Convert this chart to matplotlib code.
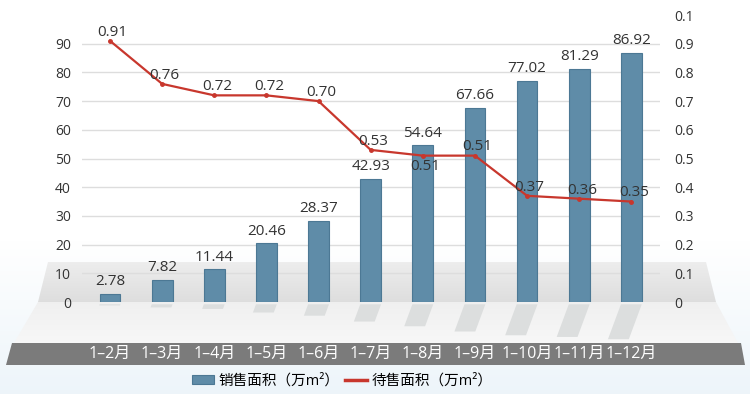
import numpy as np
import matplotlib
matplotlib.use("Agg")
import matplotlib.pyplot as plt
from matplotlib.patches import Polygon
from matplotlib.transforms import blended_transform_factory

plt.rcParams['font.family'] = ['Open Sans', 'Noto Sans CJK SC', 'DejaVu Sans']

# données
mois = ["1–2月", "1–3月", "1–4月", "1–5月", "1–6月", "1–7月",
        "1–8月", "1–9月", "1–10月", "1–11月", "1–12月"]
ventes = [2.78, 7.82, 11.44, 20.46, 28.37, 42.93, 54.64, 67.66, 77.02, 81.29, 86.92]
stock = [0.91, 0.76, 0.72, 0.72, 0.70, 0.53, 0.51, 0.51, 0.37, 0.36, 0.35]
ticks_gauche = [0, 10, 20, 30, 40, 50, 60, 70, 80, 90]
ticks_droite = [0, 0.1, 0.2, 0.3, 0.4, 0.5, 0.6, 0.7, 0.8, 0.9, 1.0]
labels_droite = ["0", "0.1", "0.2", "0.3", "0.4", "0.5", "0.6", "0.7", "0.8", "0.9", "0.1"]

W, H = 750, 394
fig = plt.figure(figsize=(7.5, 3.94), dpi=100)

# fond décoratif (coordonnées pixels, y vers le bas)
bg = fig.add_axes([0, 0, 1, 1], zorder=0)
bg.set_xlim(0, W)
bg.set_ylim(H, 0)
bg.axis("off")
grad = np.linspace(0, 1, 100).reshape(-1, 1)
bg.imshow(np.dstack([1 - 0.07 * grad, 1 - 0.04 * grad, 1 - 0.02 * grad] + [np.ones_like(grad)]),
          extent=[0, W, H, 240], aspect="auto", zorder=0)

def poly_grad(pts, c_top, c_bot, z):
    p = Polygon(pts, closed=True, facecolor="none", edgecolor="none", zorder=z)
    bg.add_patch(p)
    ys = [q[1] for q in pts]
    g = np.linspace(0, 1, 64).reshape(-1, 1)
    c1, c2 = np.array(c_top), np.array(c_bot)
    img = c1 + (c2 - c1) * g[:, :, None]
    img = np.repeat(img, 2, axis=1)
    im = bg.imshow(img, extent=[0, W, max(ys), min(ys)], aspect="auto", zorder=z)
    im.set_clip_path(p)

poly_grad([(48, 262), (706, 262), (716, 302), (38, 302)],
          (0.93, 0.93, 0.93), (0.87, 0.87, 0.87), 1)
poly_grad([(38, 302), (716, 302), (738, 343), (14, 343)],
          (0.94, 0.94, 0.94), (0.97, 0.97, 0.97), 1)
bg.add_patch(Polygon([(12, 343), (741, 343), (745, 365), (6, 365)], closed=True,
                     facecolor="#7b7b7b", edgecolor="none", zorder=2))

# graphique principal
ax = fig.add_axes([82 / W, 92 / H, 578 / W, 287 / H], zorder=2)
ax.patch.set_alpha(0)
x = np.arange(len(mois))
ax.set_xlim(-0.537, 10.55)
ax.set_ylim(0, 100)
for s in ax.spines.values():
    s.set_visible(False)
ax.set_yticks(ticks_gauche)
ax.tick_params(axis="y", length=0, pad=8, labelsize=10, labelcolor="#333333")
ax.set_xticks([])
ax.grid(axis="y", color="#dddddd", linewidth=1)
ax.set_axisbelow(True)

# ombres sous les barres
bw = 0.4
for xi, v in zip(x, ventes):
    l = 0.14 * v
    dx = -0.37 * l * 2.87 / 52.1
    ax.add_patch(Polygon([(xi - bw / 2, -0.8), (xi + bw / 2, -0.8),
                          (xi + bw / 2 + dx, -0.8 - l), (xi - bw / 2 + dx, -0.8 - l)],
                         closed=True, facecolor="#dcdede", edgecolor="none",
                         clip_on=False, zorder=1))

bars = ax.bar(x, ventes, width=bw, color="#5f8ca8", edgecolor="#4c7894",
              linewidth=0.8, zorder=3, label="销售面积（万m²）")
for xi, v in zip(x, ventes):
    ax.text(xi, v + 1.6, f"{v:.2f}", ha="center", va="bottom", fontsize=11,
            color="#333333", zorder=5)

ax2 = ax.twinx()
ax2.set_ylim(0, 1)
for s in ax2.spines.values():
    s.set_visible(False)
ax2.set_yticks(ticks_droite)
ax2.set_yticklabels(labels_droite)
ax2.tick_params(axis="y", length=0, pad=10, labelsize=10, labelcolor="#333333")
ax2.plot(x, stock, color="#c8372d", linewidth=1.6, marker="o", markersize=2.5,
         zorder=4, label="待售面积（万m²）")
for i, (xi, v) in enumerate(zip(x, stock)):
    if i == 6:
        ax2.text(xi + 0.05, v - 0.012, f"{v:.2f}", ha="center", va="top",
                 fontsize=11, color="#333333", zorder=5)
    else:
        ax2.text(xi + 0.05, v + 0.004, f"{v:.2f}", ha="center", va="bottom",
                 fontsize=11, color="#333333", zorder=5)

# étiquettes de l'axe x sur la bande grise
tr = blended_transform_factory(ax.transData, fig.transFigure)
for xi, m in zip(x, mois):
    ax.text(xi, 1 - 354 / H, m, transform=tr, ha="center", va="center",
            fontsize=11.5, color="white", clip_on=False)

# légende
h1, l1 = ax.get_legend_handles_labels()
h2, l2 = ax2.get_legend_handles_labels()
h2 = [plt.Line2D([], [], color="#c8372d", linewidth=2.5)]
fig.legend(h1 + h2, l1 + l2, loc="center", bbox_to_anchor=(342 / W, 1 - 381 / H),
           ncol=2, frameon=False, fontsize=10.5, handlelength=1.5, handleheight=0.6,
           columnspacing=0.4, handletextpad=0.3)

fig.savefig("out.png", dpi=100)
